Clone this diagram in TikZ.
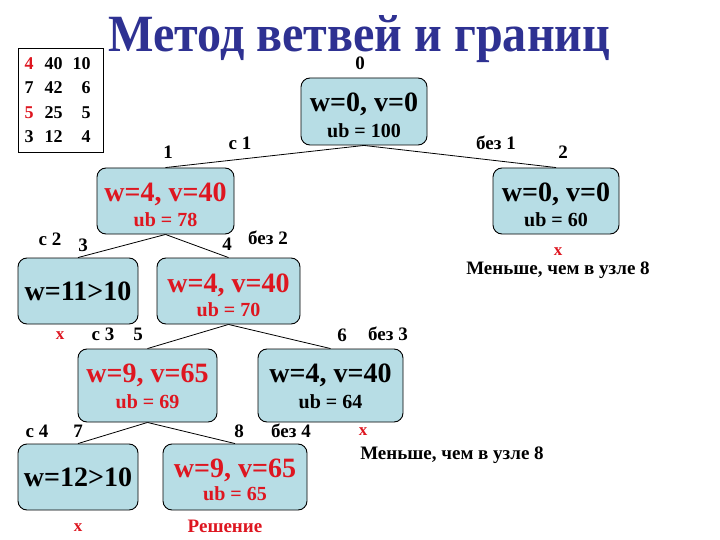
\documentclass[tikz,border=0pt]{standalone}
\usepackage{fontspec}
\usepackage{graphicx}
\setmainfont{Liberation Serif}
\definecolor{boxblue}{RGB}{183,221,229}
\definecolor{nred}{RGB}{222,22,32}
\definecolor{tblue}{RGB}{46,49,146}
\tikzset{
  box/.style={draw=black, line width=0.9pt, fill=boxblue, rounded corners=9pt, inner sep=0pt, align=center},
  wt/.style={inner sep=0pt, font=\fontsize{28}{30}\selectfont\bfseries},
  ubt/.style={inner sep=0pt, font=\fontsize{20}{22}\selectfont\bfseries},
  lbl/.style={inner sep=0pt, font=\fontsize{19}{21}\selectfont\bfseries},
  xmark/.style={inner sep=0pt, text=nred, font=\fontsize{17}{19}\selectfont\bfseries},
  edge/.style={draw=black, line width=0.8pt}
}
\begin{document}
\begin{tikzpicture}[x=1pt,y=-1pt]
\useasboundingbox (0,0) rectangle (720,540);
\fill[white] (0,0) rectangle (720,540);
% title
\node[inner sep=0pt, anchor=base west, text=tblue, font=\bfseries] (title) at (108,52) {\resizebox{502pt}{36pt}{Метод ветвей и границ}};
% table
\node[draw=black, line width=0.9pt, fill=white, minimum width=85pt, minimum height=104pt, inner sep=0pt] (tbl) at (60.5,100) {};
\node[inner sep=0pt, anchor=west] (tbltext) at (24.5,101) {\fontsize{18}{24.5}\selectfont\bfseries
\begin{tabular}{@{}c@{\hspace{11pt}}c@{\hspace{10pt}}r@{}}
\textcolor{nred}{4} & 40 & 10\\
7 & 42 & 6\\
\textcolor{nred}{5} & 25 & 5\\
3 & 12 & 4
\end{tabular}};
% boxes
\node[box, minimum width=126pt, minimum height=67pt] (n0) at (364,111.5) {};
\node[box, minimum width=137pt, minimum height=66pt] (n1) at (165.5,201) {};
\node[box, minimum width=126pt, minimum height=66pt] (n2) at (556,201) {};
\node[box, minimum width=120pt, minimum height=66pt, font=\fontsize{28}{30}\selectfont\bfseries] (n3) at (78,291) {w=11>10};
\node[box, minimum width=143pt, minimum height=66pt] (n4) at (228.5,291) {};
\node[box, minimum width=139pt, minimum height=73pt] (n5) at (147.5,385.5) {};
\node[box, minimum width=145pt, minimum height=73pt] (n6) at (330.5,385.5) {};
\node[box, minimum width=120pt, minimum height=66pt, font=\fontsize{28}{30}\selectfont\bfseries] (n7) at (78,477) {w=12>10};
\node[box, minimum width=144pt, minimum height=66pt] (n8) at (235,477) {};
% box texts
\node[wt, anchor=base] (n0a) at ([yshift=0pt]n0.center) {w=0, v=0};
\node[ubt, anchor=base] (n0b) at ([yshift=-26pt]n0.center) {ub = 100};
\node[wt, anchor=base, text=nred] (n1a) at ([yshift=-1pt]n1.center) {w=4, v=40};
\node[ubt, anchor=base, text=nred] (n1b) at ([yshift=-25pt]n1.center) {ub = 78};
\node[wt, anchor=base] (n2a) at ([yshift=-1pt]n2.center) {w=0, v=0};
\node[ubt, anchor=base] (n2b) at ([yshift=-25pt]n2.center) {ub = 60};
\node[wt, anchor=base, text=nred] (n4a) at ([yshift=-1pt]n4.center) {w=4, v=40};
\node[ubt, anchor=base, text=nred] (n4b) at ([yshift=-25pt]n4.center) {ub = 70};
\node[wt, anchor=base, text=nred] (n5a) at ([yshift=3.5pt]n5.center) {w=9, v=65};
\node[ubt, anchor=base, text=nred] (n5b) at ([yshift=-22.5pt]n5.center) {ub = 69};
\node[wt, anchor=base] (n6a) at ([yshift=3.5pt]n6.center) {w=4, v=40};
\node[ubt, anchor=base] (n6b) at ([yshift=-22.5pt]n6.center) {ub = 64};
\node[wt, anchor=base, text=nred] (n8a) at ([yshift=0pt]n8.center) {w=9, v=65};
\node[ubt, anchor=base, text=nred] (n8b) at ([yshift=-23pt]n8.center) {ub = 65};
% edges
\draw[edge] (n0.south) -- (n1.north);
\draw[edge] (n0.south) -- (n2.north);
\draw[edge] (n1.south) -- (n3.north);
\draw[edge] (n1.south) -- (n4.north);
\draw[edge] (n4.south) -- (n5.north);
\draw[edge] (n4.south) -- (n6.north);
\draw[edge] (n5.south) -- (n7.north);
\draw[edge] (n5.south) -- (n8.north);
% labels
\node[lbl] (l0) at (360,63) {0};
\node[lbl] (l1) at (168,152) {1};
\node[lbl] (lc1) at (240,143) {с 1};
\node[lbl] (lb1) at (496,143) {без 1};
\node[lbl] (l2) at (563,152) {2};
\node[lbl] (lc2) at (50,239) {с 2};
\node[lbl] (l3) at (83,245) {3};
\node[lbl] (l4) at (227,244) {4};
\node[lbl] (lb2) at (268,238) {без 2};
\node[xmark] (x2) at (558,252) {х};
\node[lbl] (m2) at (558,270) {Меньше, чем в узле 8};
\node[xmark] (x3) at (60,336) {х};
\node[lbl] (lc3) at (103,334) {с 3};
\node[lbl] (l5) at (138,334) {5};
\node[lbl] (l6) at (342,335) {6};
\node[lbl] (lb3) at (388,334) {без 3};
\node[lbl] (lc4) at (37,431) {с 4};
\node[lbl] (l7) at (78,431) {7};
\node[lbl] (l8) at (239,431) {8};
\node[lbl] (lb4) at (291,431) {без 4};
\node[xmark] (x6) at (363,432) {х};
\node[lbl] (m6) at (452,455) {Меньше, чем в узле 8};
\node[xmark] (x7) at (78,528) {х};
\node[lbl, text=nred] (sol) at (225,526) {Решение};
\end{tikzpicture}
\end{document}
